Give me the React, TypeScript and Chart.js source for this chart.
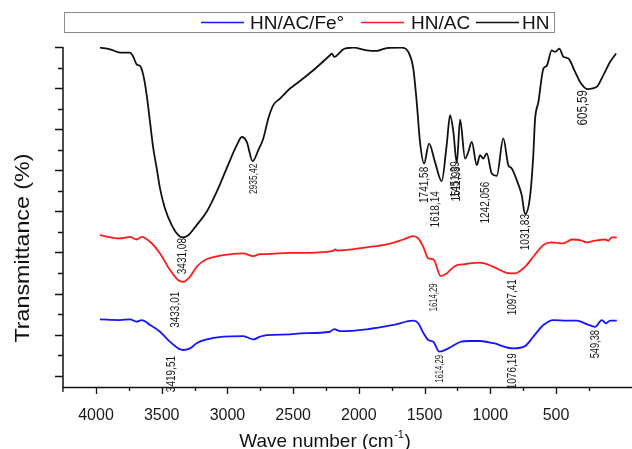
import React, { useEffect, useRef } from "react";
import { Chart, registerables } from "chart.js";

Chart.register(...registerables);

const FONT = '"Liberation Sans", Arial, Helvetica, sans-serif';

// ---- data (wave number axis units, transmittance in arbitrary units) ----
const hnX = [3970, 3893, 3817, 3741, 3716, 3690, 3665, 3640, 3614, 3589, 3564, 3538, 3513, 3475, 3424, 3374, 3340, 3298, 3234, 3158, 3082, 3006, 2929, 2891, 2853, 2808, 2765, 2727, 2689, 2651, 2600, 2524, 2473, 2347, 2220, 2207, 2187, 2118, 2042, 1940, 1864, 1788, 1674, 1624, 1586, 1560, 1535, 1504, 1466, 1421, 1370, 1332, 1306, 1281, 1255, 1230, 1192, 1167, 1141, 1103, 1078, 1053, 1027, 989, 951, 901, 863, 837, 799, 761, 736, 698, 673, 660, 634, 596, 571, 533, 507, 475, 444, 406, 355, 317, 262, 190, 140, 89, 43];
const hnY = [159.7, 158.9, 157.3, 157.3, 155.2, 151.5, 150.8, 146.3, 136.5, 123.5, 110.6, 100.9, 91.2, 81.4, 73.3, 68.4, 67.3, 68.4, 73.3, 79.8, 89.5, 100.9, 112.2, 116.2, 113.8, 104.4, 109.8, 115.5, 125.2, 131.7, 134.9, 139.8, 142.2, 148.7, 156.0, 156.8, 155.2, 158.9, 159.7, 158.4, 158.1, 159.5, 159.7, 157.6, 149.5, 133.3, 113.8, 103.3, 113.0, 104.1, 94.7, 112.2, 126.8, 118.7, 103.5, 124.6, 105.7, 109.0, 113.8, 102.5, 107.3, 105.7, 108.2, 98.4, 97.3, 115.5, 102.5, 100.9, 95.2, 87.9, 78.7, 87.1, 107.3, 124.4, 133.3, 149.5, 150.8, 158.4, 157.6, 159.2, 155.2, 154.4, 147.9, 143.0, 139.5, 140.6, 146.3, 152.7, 156.8];

const acX = [3970, 3817, 3741, 3690, 3652, 3589, 3513, 3437, 3374, 3336, 3285, 3234, 3171, 3031, 2879, 2803, 2752, 2701, 2524, 2448, 2194, 2181, 2160, 1940, 1788, 1662, 1586, 1548, 1510, 1472, 1433, 1377, 1332, 1268, 1192, 1139, 1078, 977, 875, 812, 736, 673, 596, 533, 444, 380, 317, 266, 203, 127, 102, 76, 38];
const acY = [68.4, 66.8, 67.6, 66.3, 67.6, 65.2, 59.5, 51.4, 46.5, 45.7, 48.2, 53.0, 56.3, 58.7, 59.5, 58.2, 59.2, 59.2, 59.8, 59.8, 60.8, 61.5, 60.9, 62.5, 63.9, 66.3, 67.9, 66.8, 62.7, 57.1, 56.6, 48.5, 49.8, 53.4, 54.3, 54.8, 55.0, 53.0, 50.1, 49.8, 53.0, 57.9, 63.6, 64.9, 64.4, 66.3, 66.0, 64.9, 65.7, 66.3, 65.7, 67.3, 67.3];

const feX = [3970, 3817, 3741, 3690, 3652, 3589, 3513, 3437, 3374, 3336, 3285, 3234, 3171, 3031, 2879, 2803, 2752, 2701, 2524, 2448, 2220, 2187, 2143, 1940, 1738, 1586, 1548, 1510, 1472, 1433, 1388, 1319, 1230, 1154, 1078, 977, 825, 736, 673, 596, 520, 418, 342, 266, 203, 152, 119, 89, 38];
const feY = [27.4, 27.1, 27.4, 26.3, 27.1, 24.7, 21.4, 16.5, 13.3, 12.5, 13.3, 15.8, 17.4, 19.0, 19.3, 17.7, 19.0, 19.8, 20.1, 20.6, 21.4, 22.7, 21.7, 22.6, 24.7, 26.8, 25.5, 20.9, 17.4, 16.5, 11.7, 13.3, 16.4, 16.9, 16.9, 15.8, 13.3, 14.4, 19.0, 24.7, 27.1, 26.8, 26.8, 25.1, 23.8, 27.1, 25.5, 26.8, 26.8];

const seriesNames = ["HN/AC/Fe°", "HN/AC", "HN"];

// peak annotations: text, axis x value, y value of the text's upper end
const annText = ["3431,08", "3433,01", "3419,51", "2935,42", "1741,58", "1618,14", "1451,39", "1511,99", "1242,056", "1031,83", "605,59", "1614,29", "1614,29", "1097,41", "1076,19", "549,38"];
const annX = [3346, 3399, 3429, 2798, 1504, 1421, 1268, 1261, 1040, 736, 294, 1428, 1383, 835, 835, 196];
const annY = [67.0, 40.9, 9.6, 103.3, 101.7, 89.8, 104.4, 102.0, 94.4, 78.7, 139.0, 44.9, 10.1, 47.0, 11.0, 22.2];

// axis ticks
const xTickValues = [4000, 3500, 3000, 2500, 2000, 1500, 1000, 500];
const xMinorValues = [3750, 3250, 2750, 2250, 1750, 1250, 750, 250];
const yTickValues = [0, 10, 20, 30, 40, 50, 60, 70, 80, 90, 100, 110, 120, 130, 140, 150, 160];
const X_MIN = -78;
const X_MAX = 4251;
const Y_MIN = -5.5;
const Y_MAX = 160;

// styles
const annSizes = [13, 13, 13, 11, 13, 13, 13, 13, 13, 13, 15, 10, 10, 13, 13, 12];
const ANN_SQUEEZE = 0.77;

function toPoints(xs: number[], ys: number[]) {
  return xs.map((x, i) => ({ x, y: ys[i] }));
}

function drawRot(ctx: CanvasRenderingContext2D, text: string, x: number, y: number, size: number, sx: number, align: CanvasTextAlign) {
  ctx.save();
  ctx.translate(x, y);
  ctx.rotate(-Math.PI / 2);
  ctx.scale(sx, 1);
  ctx.font = `${size}px ${FONT}`;
  ctx.textAlign = align;
  ctx.textBaseline = "middle";
  ctx.fillText(text, 0, 0);
  ctx.restore();
}

const overlay = {
  id: "overlay",
  afterDraw(chart: any) {
    const { ctx, chartArea } = chart;
    const xs = chart.scales.x;
    const ys = chart.scales.y;
    const L = chartArea.left;
    const B = chartArea.bottom;
    const T = ys.getPixelForValue(Y_MAX);
    ctx.save();

    // axes
    ctx.strokeStyle = "#111";
    ctx.lineWidth = 1.5;
    ctx.beginPath();
    ctx.moveTo(L, T);
    ctx.lineTo(L, B + 0.5);
    ctx.lineTo(chartArea.right, B + 0.5);
    ctx.stroke();

    ctx.lineWidth = 1.3;
    ctx.beginPath();
    yTickValues.forEach((v) => {
      const py = Math.round(ys.getPixelForValue(v)) + 0.5;
      const len = v % 20 === 0 ? 8 : 5;
      ctx.moveTo(L - len, py);
      ctx.lineTo(L, py);
    });
    ctx.moveTo(L, B);
    ctx.lineTo(L, B + 5);
    xTickValues.forEach((v) => {
      const px = Math.round(xs.getPixelForValue(v)) + 0.5;
      ctx.moveTo(px, B);
      ctx.lineTo(px, B + 7);
    });
    xMinorValues.forEach((v) => {
      const px = Math.round(xs.getPixelForValue(v)) + 0.5;
      ctx.moveTo(px, B);
      ctx.lineTo(px, B + 4);
    });
    ctx.stroke();

    // peak labels
    ctx.fillStyle = "#1a1a1a";
    annText.forEach((t, i) => {
      const px = xs.getPixelForValue(annX[i]);
      const py = ys.getPixelForValue(annY[i]);
      drawRot(ctx, t, px, py, annSizes[i], ANN_SQUEEZE, "right");
    });

    // y title
    ctx.fillStyle = "#111";
    ctx.font = `21px ${FONT}`;
    const yt = "Transmittance (%)";
    const ytw = ctx.measureText(yt).width;
    drawRot(ctx, yt, 23, 248, 21, 189 / ytw, "center");

    // x title with superscript
    const mainT = "Wave number (cm";
    ctx.font = `19px ${FONT}`;
    const w1 = ctx.measureText(mainT).width;
    const w3 = ctx.measureText(")").width;
    ctx.font = `11px ${FONT}`;
    const sup = "-1";
    const w2 = ctx.measureText(sup).width;
    const total = w1 + w2 + 1 + w3;
    let sx = 325 - total / 2;
    const baseY = 447;
    ctx.textAlign = "left";
    ctx.textBaseline = "alphabetic";
    ctx.font = `19px ${FONT}`;
    ctx.fillText(mainT, sx, baseY);
    ctx.font = `11px ${FONT}`;
    ctx.fillText(sup, sx + w1 + 0.5, baseY - 9);
    ctx.font = `19px ${FONT}`;
    ctx.fillText(")", sx + w1 + w2 + 1, baseY);

    // legend
    ctx.strokeStyle = "#8a8a8a";
    ctx.lineWidth = 1;
    ctx.strokeRect(64.5, 12.5, 490, 20);
    const colors = ["#1414ff", "#ff1a1a", "#111111"];
    const lineStarts = [201, 361, 476];
    const textStarts = [250, 411, 522];
    seriesNames.forEach((n, i) => {
      ctx.strokeStyle = colors[i];
      ctx.lineWidth = 1.6;
      ctx.beginPath();
      ctx.moveTo(lineStarts[i], 22.5);
      ctx.lineTo(lineStarts[i] + 43, 22.5);
      ctx.stroke();
      ctx.fillStyle = "#111";
      ctx.font = `19px ${FONT}`;
      ctx.textAlign = "left";
      ctx.textBaseline = "middle";
      ctx.fillText(n, textStarts[i], 23.5);
    });

    ctx.restore();
  },
};

export default function App() {
  const ref = useRef<HTMLCanvasElement | null>(null);
  useEffect(() => {
    if (!ref.current) return;
    const chart = new Chart(ref.current, {
      type: "line",
      data: {
        datasets: [
          { label: seriesNames[0], data: toPoints(feX, feY), borderColor: "#1414ff", borderWidth: 1.8, pointRadius: 0, cubicInterpolationMode: "monotone", fill: false },
          { label: seriesNames[1], data: toPoints(acX, acY), borderColor: "#ff1a1a", borderWidth: 1.8, pointRadius: 0, cubicInterpolationMode: "monotone", fill: false },
          { label: seriesNames[2], data: toPoints(hnX, hnY), borderColor: "#111111", borderWidth: 1.8, pointRadius: 0, cubicInterpolationMode: "monotone", fill: false },
        ],
      },
      options: {
        animation: false,
        responsive: false,
        parsing: false as any,
        layout: { padding: { top: 47, right: 0, left: 0, bottom: 0 } },
        plugins: { legend: { display: false }, tooltip: { enabled: false }, title: { display: false } },
        scales: {
          x: {
            type: "linear",
            reverse: true,
            min: X_MIN,
            max: X_MAX,
            afterBuildTicks: (s: any) => {
              s.ticks = xTickValues.map((v) => ({ value: v }));
            },
            afterFit: (s: any) => {
              s.height = 62;
            },
            grid: { display: false, drawTicks: false },
            border: { display: false },
            ticks: {
              font: { size: 16, family: FONT },
              color: "#1a1a1a",
              padding: 19,
              maxRotation: 0,
              autoSkip: false,
              callback: (v: any) => String(v),
            },
          },
          y: {
            type: "linear",
            min: Y_MIN,
            max: Y_MAX,
            afterFit: (s: any) => {
              s.width = 63;
            },
            ticks: { display: false },
            grid: { display: false, drawTicks: false },
            border: { display: false },
          },
        },
      } as any,
      plugins: [overlay],
    });
    return () => chart.destroy();
  }, []);
  return (
    <div style={{ position: "absolute", left: 0, top: 0, width: 632, height: 449, background: "#fff" }}>
      <canvas ref={ref} width={632} height={449} style={{ display: "block" }} />
    </div>
  );
}
